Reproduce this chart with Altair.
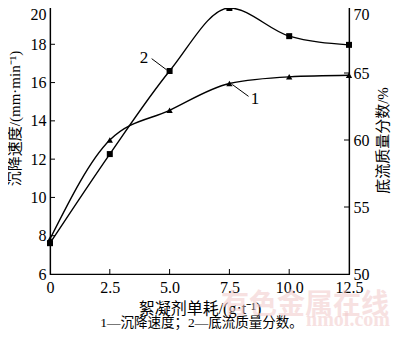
import altair as alt
import pandas as pd

# data
dosage = [0, 2.5, 5.0, 7.5, 10.0, 12.5]
speed = [7.83, 13.0, 14.55, 15.95, 16.3, 16.38]          # 沉降速度 (left axis)
underflow = [52.3, 58.95, 65.15, 69.85, 67.75, 67.1]      # 底流质量分数 (right axis)

left_ticks = [6, 8, 10, 12, 14, 16, 18, 20]
right_ticks = [50, 55, 60, 65, 70]
x_ticks = [0, 2.5, 5.0, 7.5, 10.0, 12.5]

# annotation labels (data coords on left axis)
ann_text = ["2", "1"]
ann_x = [3.93, 8.57]
ann_y = [17.28, 15.12]
lead_x1 = [4.25, 7.62]
lead_y1 = [17.25, 15.9]
lead_x2 = [4.88, 8.3]
lead_y2 = [16.66, 15.28]

FONT = '"Liberation Serif", "Noto Sans CJK SC", serif'
W, H = 299, 268

df1 = pd.DataFrame({"x": dosage, "y": speed})
df2 = pd.DataFrame({"x": dosage, "y": underflow})
ann = pd.DataFrame({"t": ann_text, "x": ann_x, "y": ann_y})
lead = pd.DataFrame({"x": lead_x1, "y": lead_y1, "x2": lead_x2, "y2": lead_y2})

xs = alt.Scale(domain=[0, 12.5], nice=False, zero=False)
ys_l = alt.Scale(domain=[6, 20], nice=False, zero=False)
ys_r = alt.Scale(domain=[50, 70], nice=False, zero=False)

x_axis = alt.Axis(values=x_ticks, title="絮凝剂单耗/(g·t⁻¹)", ticks=False,
                  labelExpr="datum.value == 0 ? '0' : format(datum.value, '.1f')",
                  labelFontSize=16, titleFontSize=16, labelPadding=5, titlePadding=5,
                  grid=False, domainColor="black", labelColor="black", titleColor="black",
                  labelFont=FONT, titleFont=FONT, titleFontWeight="normal", labelFlush=False,
                  labelOverlap=False)
yl_axis = alt.Axis(values=left_ticks, title="沉降速度/(mm·min⁻¹)", ticks=False,
                   labelFontSize=16, titleFontSize=15, labelPadding=4, titlePadding=8,
                   labelBaseline={"condition": {"test": "datum.value == 20", "value": "top"}, "value": "middle"},
                   titleY=112,
                   grid=False, domainColor="black", labelColor="black", titleColor="black",
                   labelFont=FONT, titleFont=FONT, titleFontWeight="normal", labelOverlap=False)
yr_axis = alt.Axis(values=right_ticks, title="底流质量分数/%", ticks=False, orient="right",
                   labelFontSize=16, titleFontSize=15, labelPadding=4, titlePadding=21,
                   labelBaseline={"condition": {"test": "datum.value == 70", "value": "top"}, "value": "middle"},
                   titleAngle=270, grid=False, domainColor="black", labelColor="black",
                   titleColor="black", labelFont=FONT, titleFont=FONT, titleFontWeight="normal",
                   labelOverlap=False)

def XL(f="x:Q"):
    return alt.X(f, scale=xs, axis=x_axis)

def YL(f="y:Q"):
    return alt.Y(f, scale=ys_l, axis=yl_axis)

def YR(f="y:Q"):
    return alt.Y(f, scale=ys_r, axis=yr_axis)

line1 = alt.Chart(df1).mark_line(interpolate="monotone", color="black", strokeWidth=1.4).encode(
    x=XL(), y=YL())
pts1 = alt.Chart(df1).mark_point(shape="triangle-up", filled=True, color="black", size=40, opacity=1).encode(
    x=XL(), y=YL())
lt = alt.Chart(pd.DataFrame({"y": left_ticks[1:-1]})).mark_rule(color="black", strokeWidth=1).encode(
    y=YL(), x=alt.value(0), x2=alt.value(5))
bt = alt.Chart(pd.DataFrame({"x": x_ticks[1:-1]})).mark_rule(color="black", strokeWidth=1).encode(
    x=XL(), y=alt.value(H), y2=alt.value(H - 5))
txt = alt.Chart(ann).mark_text(font=FONT, fontSize=17, color="black").encode(
    x=XL(), y=YL(), text="t:N")
leads = alt.Chart(lead).mark_rule(color="black", strokeWidth=1).encode(
    x=XL(), y=YL(), x2="x2:Q", y2="y2:Q")
caption = alt.Chart(pd.DataFrame({"t": ["1—沉降速度；2—底流质量分数。"]})).mark_text(
    font=FONT, fontSize=13.5, color="black").encode(text="t:N", x=alt.value(W / 2 + 2), y=alt.value(317))
wm = alt.Chart(pd.DataFrame({"t": ["有色金属在线"]})).mark_text(
    font='"Noto Sans CJK SC"', fontSize=28, fontWeight="bold", color="#f2c9c9", opacity=0.55).encode(
    text="t:N", x=alt.value(255), y=alt.value(300))
wm2 = alt.Chart(pd.DataFrame({"t": ["nmol.com"]})).mark_text(
    font=FONT, fontSize=20, fontWeight="bold", color="#f2c9c9", opacity=0.55).encode(
    text="t:N", x=alt.value(298), y=alt.value(314))

left = alt.layer(wm, wm2, line1, pts1, lt, bt, leads, txt, caption)

line2 = alt.Chart(df2).mark_line(interpolate="monotone", color="black", strokeWidth=1.4).encode(
    x=XL(), y=YR())
pts2 = alt.Chart(df2).mark_point(shape="square", filled=True, color="black", size=36, opacity=1).encode(
    x=XL(), y=YR())
rt = alt.Chart(pd.DataFrame({"y": right_ticks[1:-1]})).mark_rule(color="black", strokeWidth=1).encode(
    y=YR(), x=alt.value(W), x2=alt.value(W - 5))
right = alt.layer(line2, pts2, rt)

chart = alt.layer(left, right).resolve_scale(y="independent").properties(
    width=W, height=H, autosize=alt.AutoSizeParams(type="none"),
    padding={"left": 42, "top": -2, "right": 43, "bottom": 56},
    background="white"
).configure_view(stroke="black", strokeWidth=1.2).configure_axis(domainWidth=1.2)

chart.save("out.html", embed_options={"renderer": "svg", "actions": False})
